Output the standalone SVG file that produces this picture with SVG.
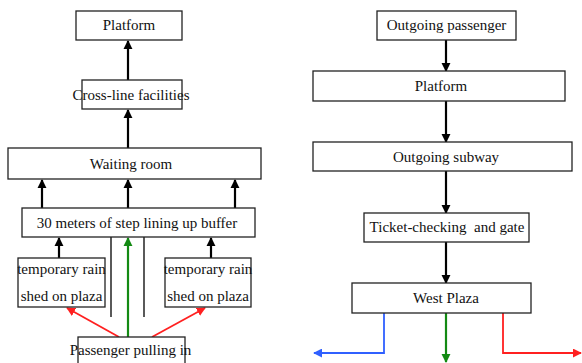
<svg xmlns="http://www.w3.org/2000/svg" width="582" height="363" viewBox="0 0 582 363">
  <style>
    .box { fill: #fff; stroke: #222; stroke-width: 1.3; }
    .lbl { font-family: "Liberation Serif", "Times New Roman", serif; font-size: 15px; fill: #111; text-anchor: middle; }
    .blk { stroke: #000; stroke-width: 2.2; fill: none; }
    .wall { stroke: #000; stroke-width: 1.3; fill: none; }
    .grn { stroke: #138a13; stroke-width: 2.2; fill: none; }
    .red { stroke: #ff2020; stroke-width: 1.8; fill: none; }
    .blu { stroke: #3060ff; stroke-width: 1.8; fill: none; }
  </style>
  <defs>
    <marker id="ahBlack" viewBox="0 0 10 10" refX="9" refY="5" markerWidth="4.2" markerHeight="4.2" orient="auto" markerUnits="strokeWidth">
      <path d="M0,0 L10,5 L0,10 z" fill="#000"/>
    </marker>
    <marker id="ahGreen" viewBox="0 0 10 10" refX="9" refY="5" markerWidth="4.2" markerHeight="4.2" orient="auto" markerUnits="strokeWidth">
      <path d="M0,0 L10,5 L0,10 z" fill="#138a13"/>
    </marker>
    <marker id="ahRed" viewBox="0 0 10 10" refX="9" refY="5" markerWidth="5" markerHeight="5" orient="auto" markerUnits="strokeWidth">
      <path d="M0,0 L10,5 L0,10 z" fill="#ff2020"/>
    </marker>
    <marker id="ahBlue" viewBox="0 0 10 10" refX="9" refY="5" markerWidth="5" markerHeight="5" orient="auto" markerUnits="strokeWidth">
      <path d="M0,0 L10,5 L0,10 z" fill="#3060ff"/>
    </marker>
  </defs>

  <rect width="582" height="363" fill="#fff"/>

  <!-- connectors -->
  <g id="connectors">
    <!-- inbound flow (left) -->
    <line class="blk" x1="128" y1="80" x2="128" y2="41" marker-end="url(#ahBlack)"/>
    <line class="blk" x1="128" y1="148" x2="128" y2="110" marker-end="url(#ahBlack)"/>
    <line class="blk" x1="42" y1="208" x2="42" y2="180" marker-end="url(#ahBlack)"/>
    <line class="blk" x1="128" y1="208" x2="128" y2="180" marker-end="url(#ahBlack)"/>
    <line class="blk" x1="235" y1="208" x2="235" y2="180" marker-end="url(#ahBlack)"/>
    <line class="blk" x1="59" y1="258" x2="59" y2="238" marker-end="url(#ahBlack)"/>
    <line class="blk" x1="211" y1="258" x2="211" y2="238" marker-end="url(#ahBlack)"/>
    <line class="wall" x1="111" y1="237" x2="111" y2="317"/>
    <line class="wall" x1="144" y1="237" x2="144" y2="317"/>
    <line class="grn" x1="128" y1="337" x2="128" y2="238" marker-end="url(#ahGreen)"/>
    <line class="red" x1="119" y1="337" x2="67" y2="308" marker-end="url(#ahRed)"/>
    <line class="red" x1="152" y1="337" x2="205" y2="308" marker-end="url(#ahRed)"/>

    <!-- outbound flow (right) -->
    <line class="blk" x1="446" y1="40" x2="446" y2="71" marker-end="url(#ahBlack)"/>
    <line class="blk" x1="446" y1="101" x2="446" y2="142" marker-end="url(#ahBlack)"/>
    <line class="blk" x1="446" y1="171" x2="446" y2="213" marker-end="url(#ahBlack)"/>
    <line class="blk" x1="446" y1="242" x2="446" y2="283" marker-end="url(#ahBlack)"/>
    <polyline class="blu" points="384,313 384,353 314,353" marker-end="url(#ahBlue)"/>
    <line class="grn" x1="446" y1="313" x2="446" y2="362" marker-end="url(#ahGreen)"/>
    <polyline class="red" points="503,313 503,353 581,353" marker-end="url(#ahRed)"/>
  </g>

  <!-- inbound nodes -->
  <g id="in-platform">
    <rect class="box" x="76" y="11" width="106" height="29"/>
    <text class="lbl" x="129" y="30">Platform</text>
  </g>
  <g id="cross-line">
    <rect class="box" x="82" y="80" width="100" height="29"/>
    <text class="lbl" x="131" y="99.5">Cross-line facilities</text>
  </g>
  <g id="waiting-room">
    <rect class="box" x="8" y="148" width="253" height="31"/>
    <text class="lbl" x="131" y="168.5">Waiting room</text>
  </g>
  <g id="buffer">
    <rect class="box" x="22" y="208" width="233" height="29"/>
    <text class="lbl" x="137" y="227.5">30 meters of step lining up buffer</text>
  </g>
  <g id="rain-shed-left">
    <rect class="box" x="18" y="258" width="87" height="49"/>
    <text class="lbl" x="61.5" y="274">temporary rain</text>
    <text class="lbl" x="61.5" y="301">shed on plaza</text>
  </g>
  <g id="rain-shed-right">
    <rect class="box" x="165" y="258" width="86" height="49"/>
    <text class="lbl" x="208" y="274">temporary rain</text>
    <text class="lbl" x="208" y="301">shed on plaza</text>
  </g>
  <g id="passenger-in">
    <rect class="box" x="78" y="337" width="107" height="30"/>
    <text class="lbl" x="130.5" y="355">Passenger pulling in</text>
  </g>

  <!-- outbound nodes -->
  <g id="outgoing-passenger">
    <rect class="box" x="377" y="11" width="139" height="29"/>
    <text class="lbl" x="446.5" y="30">Outgoing passenger</text>
  </g>
  <g id="out-platform">
    <rect class="box" x="313" y="71" width="252" height="30"/>
    <text class="lbl" x="441" y="91">Platform</text>
  </g>
  <g id="outgoing-subway">
    <rect class="box" x="313" y="142" width="259" height="29"/>
    <text class="lbl" x="446" y="161.5">Outgoing subway</text>
  </g>
  <g id="ticket-gate">
    <rect class="box" x="364" y="213" width="165" height="29"/>
    <text class="lbl" x="447" y="232">Ticket-checking&#160; and gate</text>
  </g>
  <g id="west-plaza">
    <rect class="box" x="352" y="283" width="179" height="30"/>
    <text class="lbl" x="446" y="303">West Plaza</text>
  </g>
</svg>
